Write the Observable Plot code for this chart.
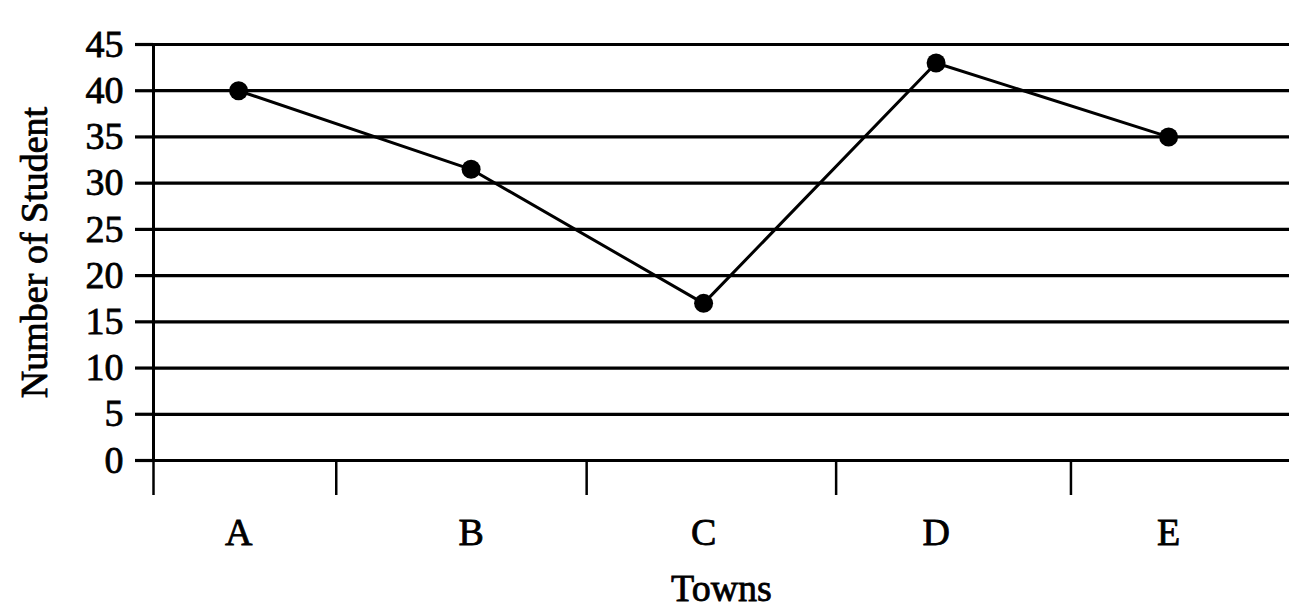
<!DOCTYPE html>
<html>
<head>
<meta charset="utf-8">
<script src="https://cdn.jsdelivr.net/npm/d3@7"></script>
<script src="https://cdn.jsdelivr.net/npm/@observablehq/plot@0.6"></script>
<style>
  html, body { margin: 0; padding: 0; background: #fff; }
  #chart { width: 1289px; height: 610px; overflow: hidden; }
  #chart svg text { stroke: #000; stroke-width: 0.8px; }
</style>
</head>
<body>
<div id="chart"></div>
<script>
// Data
const towns = ["A", "B", "C", "D", "E"];
const students = [40, 31.5, 17, 43, 35];
const yTicks = [0, 5, 10, 15, 20, 25, 30, 35, 40, 45];
// x positions (in town-index units) of the separator ticks below the axis
const xMin = -0.366;
const xMax = 4.52;
const separatorTicks = [xMin, 0.42, 1.497, 2.57, 3.58];

const data = towns.map((t, i) => ({ i, town: t, value: students[i] }));

const chart = Plot.plot({
  width: 1289,
  height: 610,
  marginLeft: 153,
  marginRight: 0,
  marginTop: 44,
  marginBottom: 150,
  style: { fontFamily: "'Liberation Serif', 'Times New Roman', serif", fontSize: "38px", color: "#000", background: "#fff" },
  x: { type: "linear", domain: [xMin, xMax] },
  y: { domain: [0, 45] },
  marks: [
    // horizontal grid lines
    Plot.ruleY(yTicks, { stroke: "#000", strokeWidth: 3.2 }),
    // vertical axis line
    Plot.ruleX([xMin], { stroke: "#000", strokeWidth: 3 }),
    // y axis ticks and labels
    Plot.axisY(yTicks, {
      tickSize: 18, tickPadding: 12, strokeWidth: 3.2, stroke: "#000",
      fontSize: 38, label: "Number of Student", labelAnchor: "center",
      labelArrow: "none", labelOffset: 133
    }),
    // separator ticks below the x axis
    Plot.axisX(separatorTicks, {
      tickSize: 35, strokeWidth: 2.5, stroke: "#000", tickFormat: () => "", label: null
    }),
    // town labels
    Plot.axisX(towns.map((_, i) => i), {
      tickSize: 0, tickPadding: 58, fontSize: 38,
      tickFormat: (d) => towns[d],
      label: "Towns", labelAnchor: "center", labelArrow: "none", labelOffset: 140
    }),
    Plot.line(data, { x: "i", y: "value", stroke: "#000", strokeWidth: 3 }),
    Plot.dot(data, { x: "i", y: "value", r: 9.5, fill: "#000", stroke: "none" })
  ]
});

document.getElementById("chart").appendChild(chart);
</script>
</body>
</html>
